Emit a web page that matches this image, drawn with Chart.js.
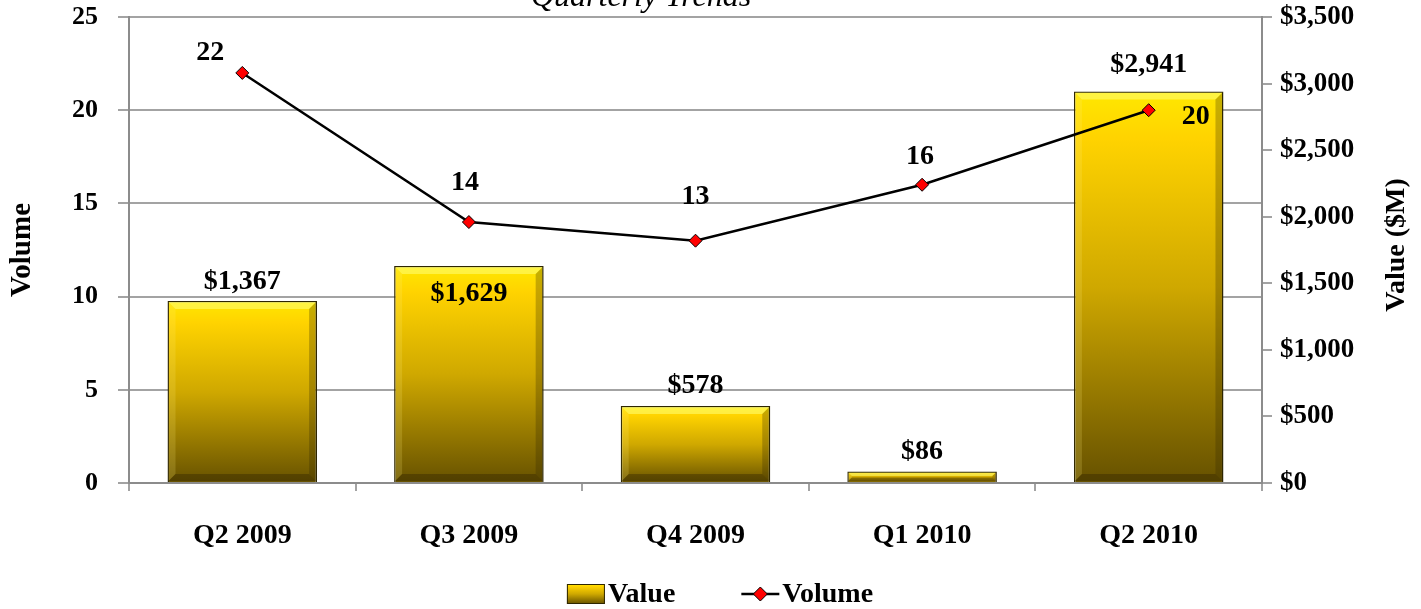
<!DOCTYPE html>
<html>
<head>
<meta charset="utf-8">
<script src="https://cdn.jsdelivr.net/npm/chart.js@4.4.0/dist/chart.umd.min.js"></script>
<style>
  html, body { margin: 0; padding: 0; background: #fff; }
</style>
</head>
<body>
<canvas id="trends" width="1421" height="609"></canvas>
<script>
const quarters = ['Q2 2009', 'Q3 2009', 'Q4 2009', 'Q1 2010', 'Q2 2010'];
const valueMillions = [1367, 1629, 578, 86, 2941];
const volumeCounts = [22, 14, 13, 16, 20];
const volumeTicks = [0, 5, 10, 15, 20, 25];
const valueTicks = [0, 500, 1000, 1500, 2000, 2500, 3000, 3500];

// label nudges in px, relative to bar top / line point
const valueLabelShift = [[0, -19], [0, 28], [0, -20], [0, -20], [0, -27]];
const volumeLabelShift = [[-32, -20], [-4, -39], [0, -44], [-2, -28], [47, 7]];

const FONT = "'Liberation Serif', 'Times New Roman', serif";
const gridGrey = '#a3a3a3';
const axisGrey = '#8c8c8c';

let money = v => '$' + v.toLocaleString('en-US');

function goldGradient(ctx, top, bottom) {
    let g = ctx.createLinearGradient(0, top, 0, bottom);
    g.addColorStop(0, '#ffe800');
    g.addColorStop(0.12, '#ffd300');
    g.addColorStop(0.5, '#cfa800');
    g.addColorStop(1, '#665100');
    return g;
}

function barFill(c) {
    let chart = c.chart;
    if (!chart.chartArea || c.type !== 'data') return '#d4ad00';
    let s = chart.scales.y1;
    return goldGradient(chart.ctx, s.getPixelForValue(c.raw), s.getPixelForValue(0));
}

// soft bevel on bar edges
const bevel = {
    id: 'bevel',
    afterDatasetDraw(chart, args) {
        if (args.index !== 0) return;
        let ctx = chart.ctx;
        args.meta.data.forEach(bar => {
            let l = bar.x - bar.width / 2, r = bar.x + bar.width / 2;
            let t = bar.y, b = bar.base;
            let e = Math.min(7, (b - t) / 3);
            ctx.save();
            ctx.fillStyle = 'rgba(255,255,120,0.55)';
            ctx.beginPath();
            ctx.moveTo(l + 1, t + 1); ctx.lineTo(r - 1, t + 1); ctx.lineTo(r - 1 - e, t + 1 + e); ctx.lineTo(l + 1 + e, t + 1 + e);
            ctx.fill();
            ctx.fillStyle = 'rgba(255,240,120,0.18)';
            ctx.beginPath();
            ctx.moveTo(l + 1, t + 1); ctx.lineTo(l + 1 + e, t + 1 + e); ctx.lineTo(l + 1 + e, b - 1 - e); ctx.lineTo(l + 1, b - 1);
            ctx.fill();
            ctx.fillStyle = 'rgba(50,38,0,0.28)';
            ctx.beginPath();
            ctx.moveTo(r - 1, t + 1); ctx.lineTo(r - 1 - e, t + 1 + e); ctx.lineTo(r - 1 - e, b - 1 - e); ctx.lineTo(r - 1, b - 1);
            ctx.fill();
            ctx.fillStyle = 'rgba(40,30,0,0.35)';
            ctx.beginPath();
            ctx.moveTo(l + 1, b - 1); ctx.lineTo(l + 1 + e, b - 1 - e); ctx.lineTo(r - 1 - e, b - 1 - e); ctx.lineTo(r - 1, b - 1);
            ctx.fill();
            ctx.restore();
        });
    }
};

// data labels, title, right axis title and legend
const decorations = {
    id: 'decorations',
    afterDatasetsDraw(chart) {
        let ctx = chart.ctx;
        ctx.save();
        ctx.fillStyle = '#000';
        ctx.textAlign = 'center';
        ctx.textBaseline = 'middle';
        ctx.font = `bold 28px ${FONT}`;
        chart.getDatasetMeta(0).data.forEach((bar, i) => {
            ctx.fillText(money(valueMillions[i]), bar.x + valueLabelShift[i][0], bar.y + valueLabelShift[i][1]);
        });
        chart.getDatasetMeta(1).data.forEach((pt, i) => {
            ctx.fillText(String(volumeCounts[i]), pt.x + volumeLabelShift[i][0], pt.y + volumeLabelShift[i][1]);
        });
        ctx.restore();
    },
    afterDraw(chart) {
        let ctx = chart.ctx;
        ctx.save();
        ctx.fillStyle = '#000';

        // chart title, mostly clipped by the top edge
        ctx.font = `italic 32px ${FONT}`;
        ctx.textAlign = 'center';
        ctx.textBaseline = 'alphabetic';
        ctx.fillText('Quarterly Trends', 641, 6);

        // right axis title, reading bottom to top
        ctx.font = `bold 28px ${FONT}`;
        ctx.textBaseline = 'middle';
        ctx.translate(1397, 245);
        ctx.rotate(-Math.PI / 2);
        ctx.fillText('Value ($M)', 0, 0);
        ctx.setTransform(1, 0, 0, 1, 0, 0);

        // legend
        ctx.font = `bold 28px ${FONT}`;
        ctx.textAlign = 'left';
        let gap = 3, iconW = 38, between = 66;
        let w1 = ctx.measureText('Value').width, w2 = ctx.measureText('Volume').width;
        let total = iconW + gap + w1 + between + iconW + gap + w2;
        let x = 720 - total / 2, y = 594;

        ctx.fillStyle = goldGradient(ctx, y - 10, y + 10);
        ctx.fillRect(x, y - 10, iconW, 20);
        ctx.strokeStyle = '#2e2600';
        ctx.lineWidth = 1;
        ctx.strokeRect(x + 0.5, y - 9.5, iconW - 1, 19);
        ctx.fillStyle = '#000';
        ctx.fillText('Value', x + iconW + gap, y + 1);

        x += iconW + gap + w1 + between;
        ctx.strokeStyle = '#000';
        ctx.lineWidth = 2.5;
        ctx.beginPath();
        ctx.moveTo(x, y); ctx.lineTo(x + iconW, y);
        ctx.stroke();
        ctx.fillStyle = '#ff0000';
        ctx.lineWidth = 1;
        ctx.beginPath();
        ctx.moveTo(x + iconW / 2, y - 7); ctx.lineTo(x + iconW / 2 + 7, y);
        ctx.lineTo(x + iconW / 2, y + 7); ctx.lineTo(x + iconW / 2 - 7, y);
        ctx.closePath();
        ctx.fill(); ctx.stroke();
        ctx.fillStyle = '#000';
        ctx.fillText('Volume', x + iconW + gap, y + 1);
        ctx.restore();
    }
};

// fixed axis sizes, no extra label padding
let fixWidth = w => s => { s.width = w; s.paddingTop = 0; s.paddingBottom = 0; };

let ctx = document.getElementById('trends').getContext('2d');
let trendsChart = new Chart(ctx, {
    type: 'bar',
    data: {
        labels: quarters,
        datasets: [{
            type: 'bar',
            label: 'Value',
            data: valueMillions,
            yAxisID: 'y1',
            backgroundColor: barFill,
            borderColor: '#2e2600',
            borderWidth: 1.5,
            barPercentage: 0.66,
            categoryPercentage: 1,
            order: 2
        }, {
            type: 'line',
            label: 'Volume',
            data: volumeCounts,
            yAxisID: 'y',
            borderColor: '#000',
            borderWidth: 2.5,
            tension: 0,
            pointStyle: 'rectRot',
            pointRadius: 6.5,
            pointBackgroundColor: '#ff0000',
            pointBorderColor: '#000',
            pointBorderWidth: 1,
            order: 1
        }]
    },
    options: {
        responsive: false,
        animation: false,
        layout: {
            padding: { top: 17, bottom: 46, left: 0, right: 0 }
        },
        plugins: {
            legend: { display: false },
            tooltip: { enabled: false }
        },
        scales: {
            x: {
                offset: true,
                grid: {
                    offset: true,
                    drawOnChartArea: false,
                    tickLength: 8,
                    color: gridGrey,
                    lineWidth: 2
                },
                border: { color: axisGrey, width: 2 },
                ticks: {
                    padding: 28,
                    color: '#000',
                    font: { family: FONT, size: 28, weight: 'bold' }
                },
                afterFit: s => { s.height = 80; s.paddingLeft = 0; s.paddingRight = 0; }
            },
            y: {
                position: 'left',
                min: 0,
                max: 25,
                afterBuildTicks: s => { s.ticks = volumeTicks.map(v => ({ value: v })); },
                grid: {
                    color: gridGrey,
                    lineWidth: 2,
                    tickLength: 11
                },
                border: { color: axisGrey, width: 2 },
                ticks: {
                    padding: 20,
                    color: '#000',
                    font: { family: FONT, size: 26, weight: 'bold' }
                },
                title: {
                    display: true,
                    text: 'Volume',
                    color: '#000',
                    padding: { top: 5, bottom: 0 },
                    font: { family: FONT, size: 29, weight: 'bold' }
                },
                afterFit: fixWidth(129)
            },
            y1: {
                position: 'right',
                min: 0,
                max: 3500,
                afterBuildTicks: s => { s.ticks = valueTicks.map(v => ({ value: v })); },
                grid: {
                    drawOnChartArea: false,
                    color: gridGrey,
                    lineWidth: 2,
                    tickLength: 10
                },
                border: { color: axisGrey, width: 2 },
                ticks: {
                    padding: 8,
                    color: '#000',
                    font: { family: FONT, size: 27, weight: 'bold' },
                    callback: v => money(v)
                },
                afterFit: fixWidth(159)
            }
        }
    },
    plugins: [bevel, decorations]
});
</script>
</body>
</html>
